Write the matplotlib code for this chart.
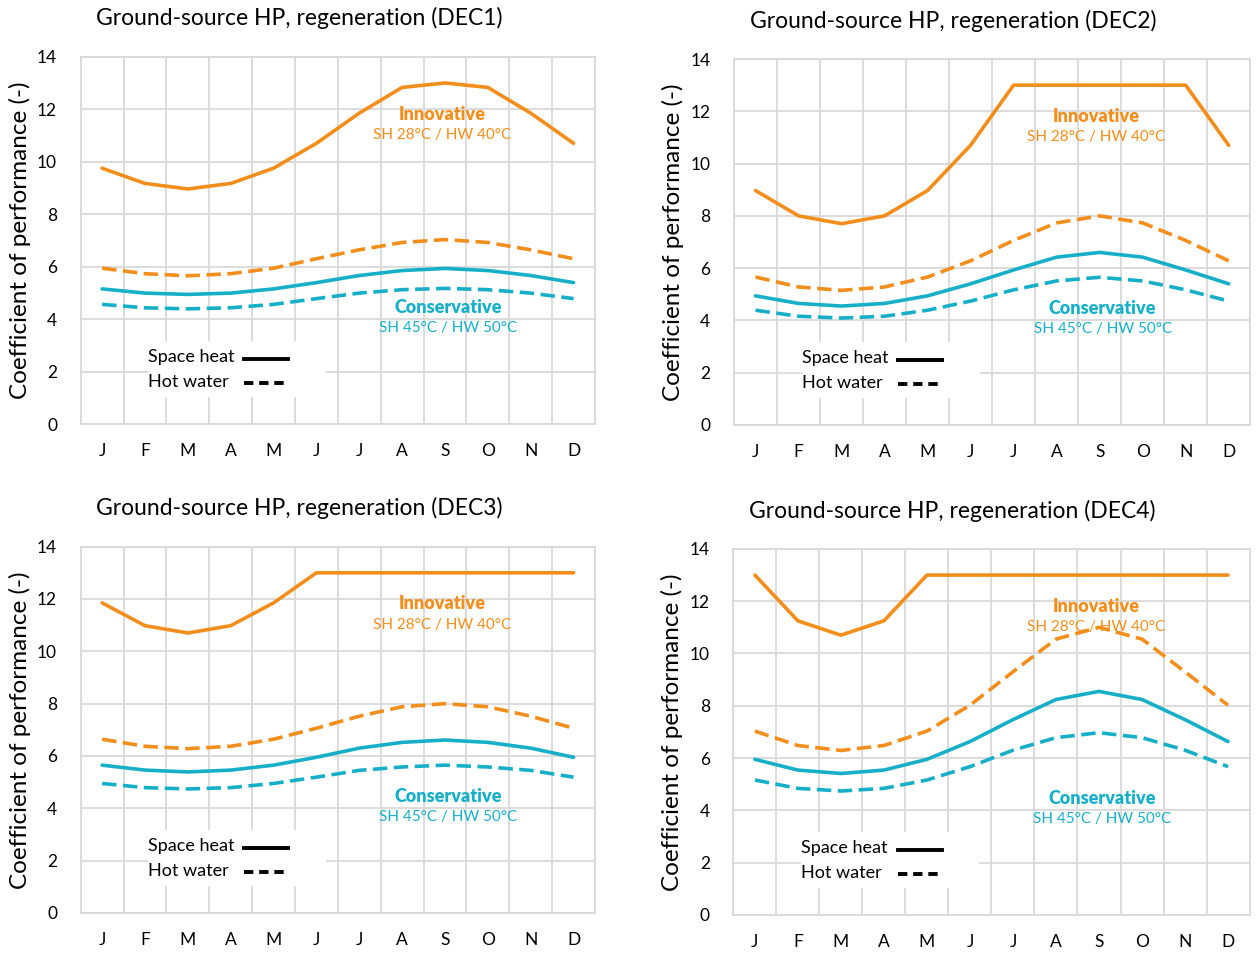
import matplotlib
matplotlib.use("Agg")
import matplotlib.pyplot as plt
from matplotlib.patches import Rectangle

plt.rcParams['font.family'] = ['Lato', 'DejaVu Sans']

months = ["J", "F", "M", "A", "M", "J", "J", "A", "S", "O", "N", "D"]
titles = ["Ground-source HP, regeneration (DEC1)", "Ground-source HP, regeneration (DEC2)",
          "Ground-source HP, regeneration (DEC3)", "Ground-source HP, regeneration (DEC4)"]

# COP per month: innovative / conservative, space heat (sh) and hot water (hw)
dec1_inn_sh = [9.75, 9.17, 8.96, 9.17, 9.75, 10.7, 11.85, 12.83, 13.0, 12.83, 11.85, 10.7]
dec1_inn_hw = [5.94, 5.73, 5.65, 5.73, 5.94, 6.3, 6.64, 6.92, 7.03, 6.92, 6.64, 6.3]
dec1_con_sh = [5.15, 4.99, 4.94, 4.99, 5.15, 5.39, 5.66, 5.85, 5.93, 5.85, 5.66, 5.39]
dec1_con_hw = [4.56, 4.43, 4.39, 4.43, 4.56, 4.78, 4.99, 5.12, 5.17, 5.12, 4.99, 4.78]

dec2_inn_sh = [8.97, 8.0, 7.7, 8.0, 8.97, 10.7, 13.0, 13.0, 13.0, 13.0, 13.0, 10.7]
dec2_inn_hw = [5.66, 5.28, 5.15, 5.28, 5.66, 6.28, 7.06, 7.73, 8.0, 7.73, 7.06, 6.28]
dec2_con_sh = [4.94, 4.65, 4.55, 4.65, 4.94, 5.4, 5.93, 6.42, 6.6, 6.42, 5.93, 5.4]
dec2_con_hw = [4.39, 4.16, 4.09, 4.16, 4.39, 4.74, 5.17, 5.51, 5.65, 5.51, 5.17, 4.74]

dec3_inn_sh = [11.85, 10.98, 10.7, 10.98, 11.85, 13.0, 13.0, 13.0, 13.0, 13.0, 13.0, 13.0]
dec3_inn_hw = [6.64, 6.37, 6.28, 6.37, 6.64, 7.06, 7.52, 7.88, 8.0, 7.88, 7.52, 7.06]
dec3_con_sh = [5.65, 5.46, 5.39, 5.46, 5.65, 5.95, 6.3, 6.52, 6.61, 6.52, 6.3, 5.95]
dec3_con_hw = [4.95, 4.79, 4.74, 4.79, 4.95, 5.19, 5.45, 5.58, 5.65, 5.58, 5.45, 5.19]

dec4_inn_sh = [13.0, 11.25, 10.7, 11.25, 13.0, 13.0, 13.0, 13.0, 13.0, 13.0, 13.0, 13.0]
dec4_inn_hw = [7.03, 6.48, 6.29, 6.48, 7.03, 8.02, 9.3, 10.55, 11.0, 10.55, 9.3, 8.02]
dec4_con_sh = [5.95, 5.54, 5.41, 5.54, 5.95, 6.63, 7.47, 8.24, 8.55, 8.24, 7.47, 6.63]
dec4_con_hw = [5.16, 4.84, 4.74, 4.84, 5.16, 5.67, 6.3, 6.78, 6.97, 6.78, 6.3, 5.67]

panels = [
    (dec1_inn_sh, dec1_inn_hw, dec1_con_sh, dec1_con_hw),
    (dec2_inn_sh, dec2_inn_hw, dec2_con_sh, dec2_con_hw),
    (dec3_inn_sh, dec3_inn_hw, dec3_con_sh, dec3_con_hw),
    (dec4_inn_sh, dec4_inn_hw, dec4_con_sh, dec4_con_hw),
]

orange = "#F28E1C"
cyan = "#17AFC8"
grid = "#D9D9D9"

fig = plt.figure(figsize=(12.59, 9.55), dpi=100)
boxes = [[0.0641, 0.556, 0.4085, 0.3846],
         [0.5830, 0.555, 0.4100, 0.3832],
         [0.0641, 0.044, 0.4085, 0.3836],
         [0.5825, 0.042, 0.4100, 0.3832]]

x = list(range(12))
for box, title, (inn_sh, inn_hw, con_sh, con_hw) in zip(boxes, titles, panels):
    ax = fig.add_axes(box)
    ax.set_xlim(-0.5, 11.5)
    ax.set_ylim(0, 14)
    ax.set_yticks(range(0, 15, 2))
    ax.set_xticks(x)
    ax.set_xticklabels(months)
    ax.set_xticks([i - 0.5 for i in range(13)], minor=True)
    ax.tick_params(axis="both", which="both", length=0, labelsize=12.5)
    ax.tick_params(axis="x", pad=14)
    ax.tick_params(axis="y", pad=17)
    ax.grid(True, axis="y", which="major", color=grid, lw=1.3)
    ax.grid(True, axis="x", which="minor", color=grid, lw=1.3)
    ax.set_axisbelow(True)
    for s in ax.spines.values():
        s.set_color(grid)
        s.set_linewidth(1.3)

    ax.plot(x, inn_sh, color=orange, lw=2.6, zorder=4, solid_capstyle="round")
    ax.plot(x, inn_hw, color=orange, lw=2.6, dashes=(4, 1.8), zorder=4)
    ax.plot(x, con_sh, color=cyan, lw=2.6, zorder=4, solid_capstyle="round")
    ax.plot(x, con_hw, color=cyan, lw=2.6, dashes=(4, 1.8), zorder=4)

    ax.text(7.93, 11.81, "Innovative", color=orange, fontsize=13, fontweight="heavy",
            ha="center", va="center", zorder=6)
    ax.text(7.93, 11.01, "SH 28°C / HW 40°C", color=orange, fontsize=11,
            ha="center", va="center", zorder=6)
    ax.text(8.07, 4.46, "Conservative", color=cyan, fontsize=13, fontweight="heavy",
            ha="center", va="center", zorder=6)
    ax.text(8.07, 3.66, "SH 45°C / HW 50°C", color=cyan, fontsize=11,
            ha="center", va="center", zorder=6)

    # legend block: white patch over the grid, labels with line samples on the right
    ax.add_patch(Rectangle((1.07, 1.03), 4.15, 2.13, facecolor="white", edgecolor="none", zorder=3))
    ax.text(1.07, 2.55, "Space heat", fontsize=13, ha="left", va="center", zorder=5)
    ax.text(1.07, 1.6, "Hot water", fontsize=13, ha="left", va="center", zorder=5)
    ax.plot([3.32, 4.34], [2.48, 2.48], color="black", lw=2.8, zorder=5)
    ax.plot([3.32, 4.34], [1.56, 1.56], color="black", lw=2.8, dashes=(2.4, 1.5), zorder=5)

    ax.set_ylabel("Coefficient of performance (-)", fontsize=17.5)
    ax.yaxis.set_label_coords(-0.097, 0.5)
    ax.text(0.424, 1.105, title, transform=ax.transAxes, fontsize=16.5,
            ha="center", va="center")

plt.savefig("out.png", dpi=100)
